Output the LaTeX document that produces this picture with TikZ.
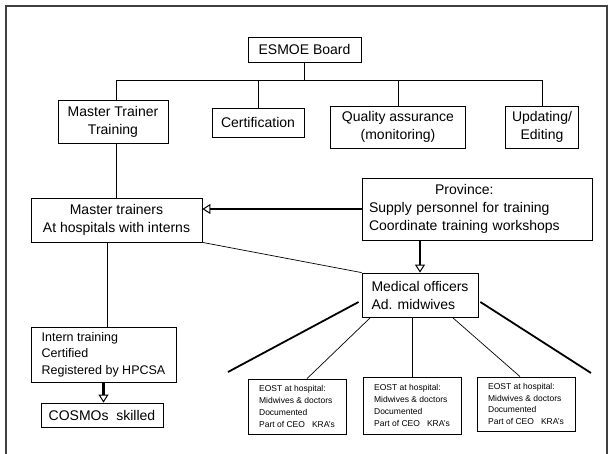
\documentclass[tikz,border=0pt]{standalone}
\usepackage{fontspec}
\setmainfont{Liberation Sans}
\usetikzlibrary{arrows.meta}

\begin{document}
\begin{tikzpicture}[x=1pt,y=-1pt,
        box/.style={draw,line width=0.8pt,inner sep=0pt,font=\fontsize{14}{18}\selectfont},
        eost/.style={box,align=left,minimum width=98pt,font=\fontsize{8.5}{11.7}\selectfont},
        link/.style={line width=0.7pt},
        fat/.style={line width=2.4pt,-{Triangle[open,length=8pt,width=10pt,line width=1pt]}},
        heavy/.style={line width=1.8pt}]
    \useasboundingbox (0,0) rectangle (611,454);
    % outer frame, bottom edge runs off the page
    \draw[line width=1.6pt,black!75] (6,454) -- (6,6) -- (607,6) -- (607,454);

    % board and the four units under it
    \node[box,minimum width=113pt,minimum height=25pt] (board) at (304.5,49.5) {ESMOE Board};
    \node[box,align=center,minimum width=110pt,minimum height=43pt] (mtt) at (113,121.5) {Master Trainer\\Training};
    \node[box,minimum width=92pt,minimum height=29pt] (cert) at (258,122.5) {Certification};
    \node[box,align=center,minimum width=135pt,minimum height=42pt] (qa) at (398,127) {Quality assurance\\(monitoring)};
    \node[box,align=center,minimum width=73pt,minimum height=42pt] (upd) at (542,127) {Updating/\\Editing};

    % middle level
    \node[box,align=center,minimum width=171pt,minimum height=44pt] (mt) at (116.5,220) {Master trainers\\At hospitals with interns};
    \node[box,text width=216pt,align=left,minimum width=230pt,minimum height=62pt] (prov) at (477,209)
        {\begin{tabular}{@{}l@{}}\multicolumn{1}{@{}c@{}}{Province:}\\Supply personnel for training\\Coordinate training workshops\end{tabular}};
    \node[box,align=left,minimum width=116pt,minimum height=44pt] (mo) at (420,295) {Medical officers\\Ad. midwives};

    % bottom level
    \node[box,align=left,minimum width=145pt,minimum height=55pt,font=\fontsize{12.5}{16.5}\selectfont] (it) at (103.5,354.5)
        {Intern training\\Certified\\Registered by HPCSA};
    \node[box,minimum width=122pt,minimum height=24pt] (cos) at (102,415) {COSMOs\ \ skilled};
    \node[eost,minimum height=55pt] (e1) at (297,406.5) {EOST at hospital:\\Midwives \& doctors\\Documented\\Part of CEO\ \ \ KRA's};
    \node[eost,minimum height=57pt] (e2) at (412,405.5) {EOST at hospital:\\Midwives \& doctors\\Documented\\Part of CEO\ \ \ KRA's};
    \node[eost,minimum height=54pt] (e3) at (526,404) {EOST at hospital:\\Midwives \& doctors\\Documented\\Part of CEO\ \ \ KRA's};

    % tree lines
    \coordinate (bus) at (0,80);
    \draw[link] (board.south) -- (board.south |- bus);
    \draw[link] (mt.north |- bus) -- (upd.north |- bus);
    \foreach \n in {cert,qa,upd}
        \draw[link] (\n.north |- bus) -- (\n.north);
    \draw[link] (mt.north |- bus) -- (mt.north |- mtt.north);
    \draw[link] (mt.north |- mtt.south) -- (mt.north);
    \draw[link] ([xshift=-9.5pt]mt.south) -- ([xshift=-9.5pt]mt.south |- it.north);
    \draw[link] (mt.south east) -- (mo.north west);
    \draw[link] ([xshift=9pt]mo.south west) -- ([xshift=10pt]e1.north);
    \draw[link] (e2.north |- mo.south) -- (e2.north);
    \draw[link] ([xshift=-26pt]mo.south east) -- ([xshift=-6pt]e3.north);

    % arrows
    \draw[fat] (prov.west) -- (prov.west -| mt.east);
    \draw[fat] (prov.south -| mo.north) -- (mo.north);
    \draw[fat] (it.south) -- (it.south |- cos.north);

    % heavy side strokes
    \coordinate (lend) at (228,372);
    \coordinate (rend) at (591,373);
    \draw[heavy] ([shift={(-3pt,-7pt)}]mo.west) -- (lend);
    \draw[heavy] ([shift={(2pt,-7pt)}]mo.east) -- (rend);
\end{tikzpicture}
\end{document}
